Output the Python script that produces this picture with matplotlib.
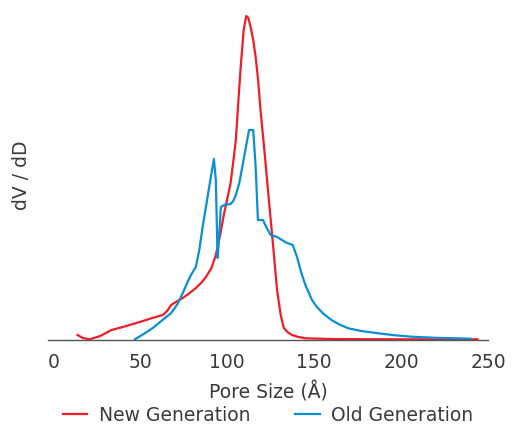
import matplotlib
matplotlib.use("Agg")
import matplotlib.pyplot as plt

# Pore size distribution (dV/dD, arbitrary units) vs pore size in Å
new_size = [14, 17, 21, 27, 33.5, 41, 49.7, 57, 63, 65.5, 67.8, 71, 74.5, 78.5, 82, 85,
            87.8, 91, 93.5, 96, 98.3, 100.3, 102, 104, 105, 106.5, 107.8, 109.5, 111,
            112.2, 113.5, 115, 116.4, 117.8, 119.2, 121.5, 124, 126.5, 128.7, 130.8,
            132.6, 135, 137.3, 141, 145, 160, 180, 200, 220, 244]
new_dvdd = [5, 2, 0.7, 4, 10, 13.5, 18, 22, 25, 29, 35, 38.5, 42, 47, 52, 57,
            63, 72, 85, 105, 127, 143, 157, 185, 200, 240, 273, 310, 324,
            322, 313, 300, 283, 260, 230, 188, 140, 93, 50, 25,
            12, 7.5, 5, 3, 1.7, 1, 0.8, 0.7, 0.7, 0.7]

old_size = [47, 52, 57.3, 62.5, 67.8, 71.5, 74.5, 77, 79.2, 82, 84, 85.9, 88, 89.7, 91.5,
            92.4, 93.5, 94.5, 95, 96.4, 98.3, 100, 102, 103.5, 105, 107, 108.7, 110.7,
            112.6, 115, 116.4, 117.7, 120.6, 122.5, 125, 128.7, 131.5, 134.5, 137.7,
            140.2, 142.5, 145, 148.8, 151.6, 155.5, 160, 164.5, 169.7, 177, 186.9,
            196, 206, 220, 240]
old_dvdd = [0.7, 6, 12, 19.5, 27, 36, 47, 57, 65, 73, 90, 113, 135, 153, 172,
            181, 160, 82, 93, 133, 135, 135.5, 136, 139, 145, 157, 173, 192,
            210, 210, 173, 120, 120, 113, 105, 103, 100, 97, 95,
            83, 68, 55, 40, 33, 26, 20, 15.5, 11.7, 9, 6.7,
            4.8, 3.3, 2.2, 1.3]

series_labels = ["New Generation", "Old Generation"]
series_colors = ["#ee1d27", "#0a8fd5"]
x_ticks = [0, 50, 100, 150, 200, 250]

plt.rcParams["font.family"] = ["DejaVu Sans"]
text_color = "#3a3a3a"
fs = 13.5

fig = plt.figure(figsize=(5.13, 4.26), dpi=100)
ax = fig.add_axes([48 / 513, 1 - 340 / 426, 440 / 513, 330 / 426])

ax.plot(new_size, new_dvdd, color=series_colors[0], lw=1.6, label=series_labels[0],
        solid_joinstyle="round")
ax.plot(old_size, old_dvdd, color=series_colors[1], lw=1.6, label=series_labels[1],
        solid_joinstyle="round")

ax.set_xlim(-3, 248.5)
ax.set_ylim(0, 330)
ax.set_xticks(x_ticks)
ax.set_xticklabels([str(t) for t in x_ticks], fontsize=fs, color=text_color)
ax.set_yticks([])
ax.tick_params(axis="x", length=0, pad=9)
for side in ["left", "right", "top"]:
    ax.spines[side].set_visible(False)
ax.spines["bottom"].set_color("#555555")
ax.spines["bottom"].set_linewidth(1.0)
ax.set_xlabel("Pore Size (Å)", fontsize=fs, color=text_color, labelpad=7)
ax.set_ylabel("dV / dD", fontsize=fs, color=text_color, labelpad=12)

leg = ax.legend(loc="center", bbox_to_anchor=(0.5, -0.228), ncol=2, frameon=False,
                fontsize=fs, handlelength=1.3, handletextpad=0.6, columnspacing=2.4,
                borderaxespad=0, borderpad=0)
for t in leg.get_texts():
    t.set_color(text_color)

fig.savefig("out.png", dpi=100)
